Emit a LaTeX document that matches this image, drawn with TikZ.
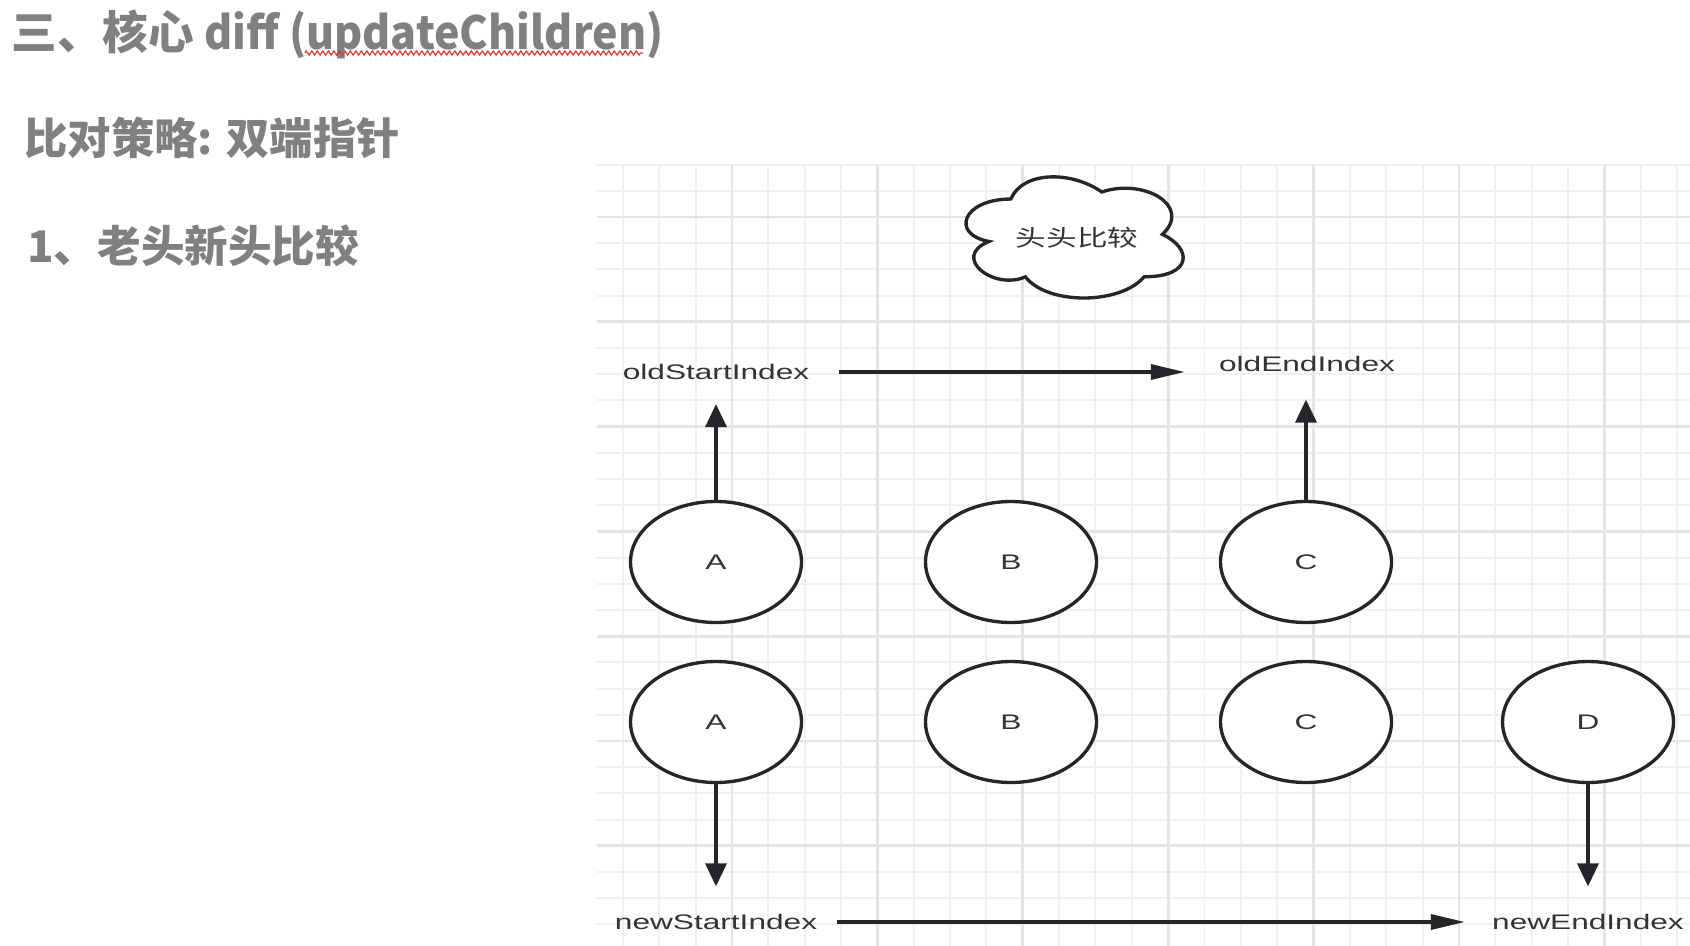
\documentclass[tikz,border=0pt]{standalone}
\usepackage{fontspec}
\setmainfont{Liberation Sans}
\newfontfamily\headfont{Noto Sans CJK SC}
\newfontfamily\headlatin{Noto Sans CJK SC}[FakeStretch=0.94]
\newfontfamily\labelfont{Liberation Sans}[FakeStretch=1.5]
\newfontfamily\cloudfont{Noto Sans CJK SC}[FakeStretch=1.34]
\usetikzlibrary{arrows.meta,positioning,shapes.geometric,decorations.pathmorphing}
\definecolor{titlegray}{RGB}{128,128,128}
\definecolor{labelgray}{RGB}{51,51,51}
\definecolor{inkdark}{RGB}{36,38,41}
\definecolor{gridlight}{RGB}{240,240,240}
\definecolor{griddark}{RGB}{228,228,228}
\definecolor{squiggle}{RGB}{226,59,46}

\begin{document}
\begin{tikzpicture}[x=0.02cm, y=-0.02cm,
  head/.style={font=\headfont\bfseries\fontsize{26}{30}\selectfont, text=titlegray,
    anchor=west, inner sep=0pt},
  idx/.style={font=\labelfont\fontsize{12}{14}\selectfont, text=labelgray, inner sep=0pt},
  vnode/.style={ellipse, draw=inkdark, fill=white, line width=1.9pt,
    minimum width=3.42cm, minimum height=2.42cm, inner sep=0pt,
    font=\labelfont\fontsize{12}{14}\selectfont, text=labelgray},
  varr/.style={-{Triangle[length=0.46cm, width=0.42cm]}, line width=2pt, inkdark},
  harr/.style={-{Triangle[length=0.68cm, width=0.30cm]}, line width=2pt, inkdark},
  gridminor/.style={line width=1.1pt, gridlight},
  gridmajor/.style={line width=1.6pt, griddark}]
\useasboundingbox (0,0) rectangle (1690,946);
\fill[white] (0,0) rectangle (1690,946);
% Headings
\node[head] (title) at (11,34) {三、核心 {\headlatin\bfseries diff (updateChildren)}};
\draw[squiggle, line width=0.7pt, decorate,
  decoration={zigzag, segment length=0.11cm, amplitude=0.04cm}] (305,53) -- (643,53);
\node[head, font=\headfont\bfseries\fontsize{24.7}{30}\selectfont] (plan) at (24,138) {比对策略: 双端指针};
\node[head, font=\headfont\bfseries\fontsize{24.8}{30}\selectfont] (step) at (27,246) {1、老头新头比较};
% Grid paper
\foreach \gx in {622.9,659.25,...,1690} \draw[gridminor] (\gx,164.6) -- (\gx,946);
\foreach \gy in {164.6,190.8,...,946} \draw[gridminor] (597,\gy) -- (1690,\gy);
\foreach \gx in {731.95,877.35,...,1690} \draw[gridmajor] (\gx,164.6) -- (\gx,946);
\foreach \gy in {217,321.8,...,946} \draw[gridmajor] (597,\gy) -- (1690,\gy);
% Cloud: head-to-head
\begin{scope}[shift={(950.2,163.7)}, x=4.85cm, y=-2.828cm]
\draw[inkdark, fill=white, line width=1.9pt]
  (0.25,0.25) .. controls (0.05,0.25) and (0,0.5) .. (0.16,0.55)
  .. controls (0,0.66) and (0.18,0.9) .. (0.31,0.8)
  .. controls (0.4,1) and (0.7,1) .. (0.8,0.8)
  .. controls (1,0.8) and (1,0.6) .. (0.875,0.5)
  .. controls (1,0.3) and (0.8,0.1) .. (0.625,0.2)
  .. controls (0.5,0.05) and (0.3,0.05) .. cycle;
\end{scope}
\node[font=\cloudfont\fontsize{13}{15}\selectfont, text=labelgray] (cmp) at (1077,237.5) {头头比较};
% Old children
\node[vnode] (olda) at (716,562) {A};
\node[vnode] (oldb) at (1011,562) {B};
\node[vnode] (oldc) at (1306,562) {C};
% New children
\node[vnode] (newa) at (716,722) {A};
\node[vnode] (newb) at (1011,722) {B};
\node[vnode] (newc) at (1306,722) {C};
\node[vnode] (newd) at (1588,722) {D};
% Pointers
\node[idx] (oldstart) at (716,372) {oldStartIndex};
\node[idx] (oldend) at (1307,364) {oldEndIndex};
\node[idx] (newstart) at (716,922) {newStartIndex};
\node[idx] (newend) at (1588,922) {newEndIndex};
\draw[varr, shorten >=0.48cm] (olda.north) -- (olda.north |- oldstart.south);
\draw[varr, shorten >=0.55cm] (oldc.north) -- (oldc.north |- oldend.south);
\draw[varr, shorten >=0.55cm] (newa.south) -- (newa.south |- newstart.north);
\draw[varr, shorten >=0.55cm] (newd.south) -- (newd.south |- newend.north);
\draw[harr, shorten <=0.58cm, shorten >=0.68cm] (oldstart.east) -- (oldstart.east -| oldend.west);
\draw[harr, shorten <=0.40cm, shorten >=0.54cm] (newstart.east) -- (newstart.east -| newend.west);
\end{tikzpicture}
\end{document}
